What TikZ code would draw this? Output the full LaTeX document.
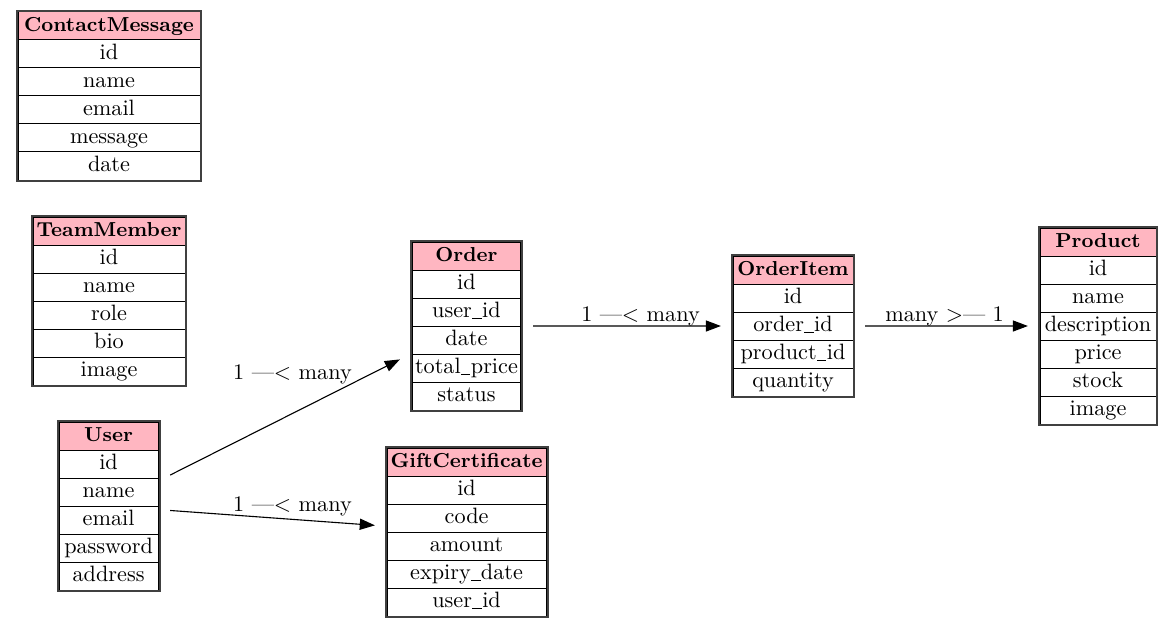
\documentclass[tikz,border=0pt]{standalone}
\usepackage{xcolor}
\usepackage{tikz}
\usetikzlibrary{arrows.meta, positioning, fit}
\definecolor{headpink}{HTML}{FFB6C1}
\newcommand{\usc}{\kern0.02em\rule[-0.6pt]{0.42em}{0.45pt}\kern0.02em}

\begin{document}
\begin{tikzpicture}[x=0.45pt, y=-0.45pt,
            head/.style={draw, fill=headpink, line width=0.45pt, minimum height=12.6pt, inner xsep=1pt, inner ysep=0pt, outer sep=0pt, text height=7pt, text depth=2pt, anchor=north west, font=\fontsize{9.1}{11}\selectfont\bfseries},
            field/.style={draw, fill=white, line width=0.45pt, minimum height=12.6pt, inner xsep=1pt, inner ysep=0pt, outer sep=0pt, text height=7pt, text depth=2pt},
            frame/.style={draw=black!75, line width=0.9pt, inner sep=0.65pt, outer sep=4.8pt},
            lbl/.style={inner sep=0pt, anchor=base},
            rel/.style={-{Triangle[length=6.8pt, width=5pt]}, line width=0.5pt}]
            \useasboundingbox (0,0) rectangle (1173,628);

            % ContactMessage
            \node[head, minimum width=81.9pt] (contact-0) at (18,12) {ContactMessage};
            \foreach \f [count=\i, remember=\i as \j (initially 0)] in {id, name, email, message, date}
                \node[field, minimum width=81.9pt, below=0pt of contact-\j] (contact-\i) {\f};
            \node[frame, fit=(contact-0)(contact-5)] (contact) {};

            % TeamMember
            \node[head, minimum width=68.4pt] (team-0) at (33,217) {TeamMember};
            \foreach \f [count=\i, remember=\i as \j (initially 0)] in {id, name, role, bio, image}
                \node[field, minimum width=68.4pt, below=0pt of team-\j] (team-\i) {\f};
            \node[frame, fit=(team-0)(team-5)] (team) {};

            % User
            \node[head, minimum width=44.6pt] (user-0) at (59,422) {User};
            \foreach \f [count=\i, remember=\i as \j (initially 0)] in {id, name, email, password, address}
                \node[field, minimum width=44.6pt, below=0pt of user-\j] (user-\i) {\f};
            \node[frame, fit=(user-0)(user-5)] (user) {};

            % Order
            \node[head, minimum width=49pt] (order-0) at (412,242) {Order};
            \foreach \f [count=\i, remember=\i as \j (initially 0)] in {id, user\usc id, date, total\usc price, status}
                \node[field, minimum width=49pt, below=0pt of order-\j] (order-\i) {\f};
            \node[frame, fit=(order-0)(order-5)] (order) {};

            % GiftCertificate
            \node[head, minimum width=71.6pt] (gift-0) at (387,448) {GiftCertificate};
            \foreach \f [count=\i, remember=\i as \j (initially 0)] in {id, code, amount, expiry\usc date, user\usc id}
                \node[field, minimum width=71.6pt, below=0pt of gift-\j] (gift-\i) {\f};
            \node[frame, fit=(gift-0)(gift-5)] (gift) {};

            % OrderItem
            \node[head, minimum width=54pt] (item-0) at (733,256) {OrderItem};
            \foreach \f [count=\i, remember=\i as \j (initially 0)] in {id, order\usc id, product\usc id, quantity}
                \node[field, minimum width=54pt, below=0pt of item-\j] (item-\i) {\f};
            \node[frame, fit=(item-0)(item-4)] (item) {};

            % Product
            \node[head, minimum width=52.2pt] (product-0) at (1040,228) {Product};
            \foreach \f [count=\i, remember=\i as \j (initially 0)] in {id, name, description, price, stock, image}
                \node[field, minimum width=52.2pt, below=0pt of product-\j] (product-\i) {\f};
            \node[frame, fit=(product-0)(product-6)] (product) {};

            % relations
            \draw[rel] (user) -- (order);
            \draw[rel] (user) -- (gift);
            \draw[rel] (order) -- (item);
            \draw[rel] (item) -- (product);

            \node[lbl] (uo) at (292.5,379) {1 —< many};
            \node[lbl] (ug) at (292.5,511) {1 —< many};
            \node[lbl] (oi) at (640.5,321.5) {1 —< many};
            \node[lbl] (ip) at (944.5,321.5) {many >— 1};
        \end{tikzpicture}
\end{document}
